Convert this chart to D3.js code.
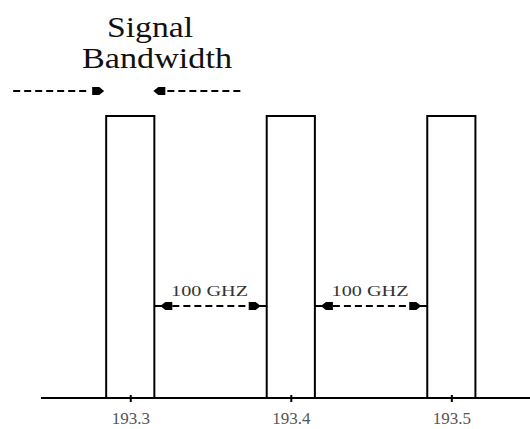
<!DOCTYPE html>
<html>
<head>
<meta charset="utf-8">
<script src="https://cdn.jsdelivr.net/npm/d3@7"></script>
<style>
  body { margin: 0; background: #fff; }
  svg { display: block; }
  text { font-family: "Liberation Serif", "DejaVu Serif", serif; }
</style>
</head>
<body>
<div id="chart"></div>
<script>
// channel centres (THz) and their labels
const channels = [193.3, 193.4, 193.5];
const tickLabels = ['193.3', '193.4', '193.5'];
const bandwidth = 0.03;          // signal bandwidth, THz
const channelPower = [1, 1, 1];  // relative bar height
const spacingLabels = ['100  GHZ', '100  GHZ'];
const titleLines = ['Signal', 'Bandwidth'];

const width = 530, height = 429;

const svg = d3.select('#chart').append('svg')
    .attr('width', width)
    .attr('height', height);

const x = d3.scaleLinear().domain([193.2444, 193.549]).range([41, 530]);
const y = d3.scaleLinear().domain([0, 1]).range([398, 116]);

// arrowhead shape, tip at origin pointing +x
const headPath = 'M0,0 L-5,-4 L-12,-4 L-12,4 L-5,4 Z';

function arrowHead(g, tipX, tipY, dir) {
    g.append('path')
        .attr('d', headPath)
        .attr('fill', '#000')
        .attr('transform', `translate(${tipX},${tipY}) scale(${dir},1)`);
}

// bars
svg.append('g').selectAll('rect')
    .data(channels)
    .enter().append('rect')
    .attr('x', d => x(d - bandwidth / 2))
    .attr('y', (d, i) => y(channelPower[i]))
    .attr('width', d => x(d + bandwidth / 2) - x(d - bandwidth / 2))
    .attr('height', (d, i) => y(0) - y(channelPower[i]))
    .attr('fill', 'none')
    .attr('stroke', '#000')
    .attr('stroke-width', 2);

// axis
const axis = d3.axisBottom(x)
    .tickValues(channels)
    .tickFormat((d, i) => tickLabels[i])
    .tickSize(4)
    .tickSizeOuter(0);

const axisG = svg.append('g')
    .attr('transform', `translate(0,${y(0)})`)
    .call(axis);
axisG.select('.domain').attr('stroke', '#000').attr('stroke-width', 2)
    .attr('d', `M${x.range()[0]},0H${x.range()[1]}`);
axisG.selectAll('.tick line')
    .attr('y1', -3).attr('y2', 4)
    .attr('stroke', '#000').attr('stroke-width', 2);
axisG.selectAll('.tick text')
    .attr('y', 14)
    .attr('font-size', 17)
    .attr('font-family', '"Liberation Serif", serif')
    .attr('fill', '#555');

// channel spacing arrows
const spacingY = 306;
const spacing = svg.append('g');
for (let i = 0; i < channels.length - 1; i++) {
    const x0 = x(channels[i] + bandwidth / 2);
    const x1 = x(channels[i + 1] - bandwidth / 2);
    spacing.append('line')
        .attr('x1', x0).attr('x2', x0 + 8)
        .attr('y1', spacingY).attr('y2', spacingY)
        .attr('stroke', '#000').attr('stroke-width', 2);
    spacing.append('line')
        .attr('x1', x1 - 8).attr('x2', x1)
        .attr('y1', spacingY).attr('y2', spacingY)
        .attr('stroke', '#000').attr('stroke-width', 2);
    spacing.append('line')
        .attr('x1', x0 + 18).attr('x2', x1 - 18)
        .attr('y1', spacingY).attr('y2', spacingY)
        .attr('stroke', '#000').attr('stroke-width', 2)
        .attr('stroke-dasharray', '7,4');
    arrowHead(spacing, x0 + 6, spacingY, -1);
    arrowHead(spacing, x1 - 6, spacingY, 1);
    spacing.append('text')
        .attr('x', (x0 + x1) / 2 - 1)
        .attr('y', spacingY - 10)
        .attr('text-anchor', 'middle')
        .attr('font-size', 15)
        .attr('fill', '#333')
        .attr('textLength', 77)
        .attr('lengthAdjust', 'spacingAndGlyphs')
        .text(spacingLabels[i]);
}

// signal bandwidth arrows on the first channel
const bwY = 91;
const left = x(channels[0] - bandwidth / 2) - 2;
const right = x(channels[0] + bandwidth / 2) - 1;
const bw = svg.append('g');
bw.append('line')
    .attr('x1', left - 91).attr('x2', left - 14)
    .attr('y1', bwY).attr('y2', bwY)
    .attr('stroke', '#000').attr('stroke-width', 2)
    .attr('stroke-dasharray', '7,4');
arrowHead(bw, left, bwY, 1);
bw.append('line')
    .attr('x1', right + 14).attr('x2', right + 88)
    .attr('y1', bwY).attr('y2', bwY)
    .attr('stroke', '#000').attr('stroke-width', 2)
    .attr('stroke-dasharray', '7,4');
arrowHead(bw, right, bwY, -1);

// title
const titleX = [150, 157];
const titleW = [86, 150];
svg.append('g').selectAll('text')
    .data(titleLines)
    .enter().append('text')
    .attr('x', (d, i) => titleX[i])
    .attr('y', (d, i) => 37 + i * 31)
    .attr('text-anchor', 'middle')
    .attr('font-size', 29)
    .attr('fill', '#111')
    .attr('textLength', (d, i) => titleW[i])
    .attr('lengthAdjust', 'spacingAndGlyphs')
    .text(d => d);
</script>
</body>
</html>
